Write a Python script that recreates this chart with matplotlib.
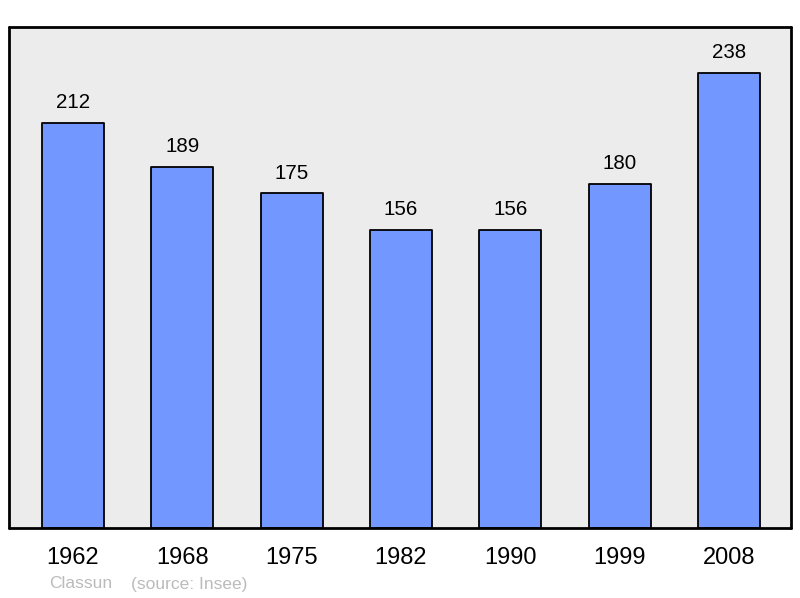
import matplotlib
matplotlib.use("Agg")
import matplotlib.pyplot as plt

years = ["1962", "1968", "1975", "1982", "1990", "1999", "2008"]
population = [212, 189, 175, 156, 156, 180, 238]

plt.rcParams['font.family'] = ['Liberation Sans', 'DejaVu Sans']

fig = plt.figure(figsize=(8.0, 5.98), dpi=100)
ax = fig.add_axes([9/800, 70/598, 782/800, 501/598])
ax.set_facecolor('#ececec')

x = list(range(len(years)))
bars = ax.bar(x, population, width=0.567, color='#7298ff', edgecolor='black',
              linewidth=1.3, zorder=2)
for b in bars:
    b.set_joinstyle('round')

ax.set_xlim(-0.585, 6.567)
ax.set_ylim(0, 262)

for xi, v in zip(x, population):
    ax.annotate(str(v), (xi, v), xytext=(0, 14.5), textcoords='offset points',
                ha='center', va='center', fontsize=14.8, color='black')

ax.set_xticks(x)
ax.set_xticklabels(years, fontsize=17)
ax.tick_params(axis='x', length=0, pad=14)
ax.set_yticks([])

for s in ax.spines.values():
    s.set_linewidth(2)
    s.set_joinstyle('round')
    s.set_capstyle('round')

fig.text(49/800, 1 - 584/598, "Classun", fontsize=12.5, color='#bbbbbb',
         ha='left', va='center')
fig.text(131/800, 1 - 584/598, "(source: Insee)", fontsize=12.5, color='#bbbbbb',
         ha='left', va='center')

fig.savefig('out.png', dpi=100)
